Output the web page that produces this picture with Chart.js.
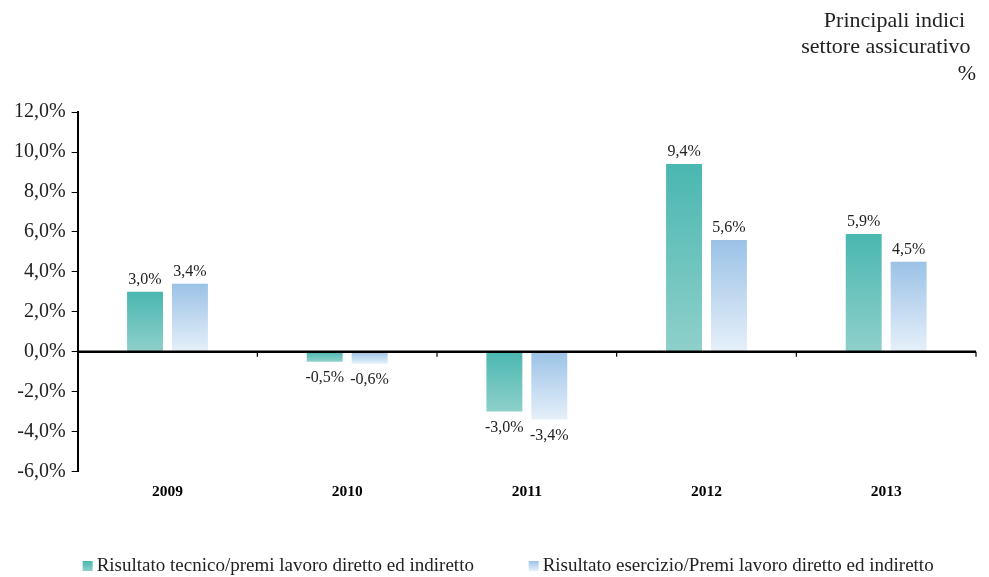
<!DOCTYPE html>
<html>
<head>
<meta charset="utf-8">
<script src="https://cdn.jsdelivr.net/npm/chart.js@4"></script>
<style>
  body { margin: 0; background: #fff; }
  #wrap { width: 989px; height: 577px; position: relative; }
</style>
</head>
<body>
<div id="wrap"><canvas id="chartIndici"></canvas></div>
<script>
const anni = ["2009", "2010", "2011", "2012", "2013"];
const risultatoTecnico = [3.0, -0.5, -3.0, 9.4, 5.9];
const risultatoEsercizio = [3.4, -0.6, -3.4, 5.6, 4.5];
const serieNomi = [
    "Risultato tecnico/premi lavoro diretto ed indiretto",
    "Risultato esercizio/Premi lavoro diretto ed indiretto"
];
const titolo = ["Principali indici  ", "settore assicurativo ", "%"];

const serif = "'Liberation Serif', 'Times New Roman', serif";
const tealTop = "#4ab7b0", tealBottom = "#8fd0cb";
const blueTop = "#9bc2e6", blueBottom = "#e6f0fa";

function fmt(v) {
    return v.toFixed(1).replace(".", ",") + "%";
}

function gradiente(top, bottom) {
    return function (c) {
        const chart = c.chart;
        if (!chart.chartArea || c.type !== "data") return top;
        const y = chart.scales.y;
        const y0 = y.getPixelForValue(0);
        const y1 = y.getPixelForValue(c.raw);
        const g = chart.ctx.createLinearGradient(0, Math.min(y0, y1), 0, Math.max(y0, y1) || 1);
        g.addColorStop(0, top);
        g.addColorStop(1, bottom);
        return g;
    };
}

// zero line with category ticks, value labels, bottom legend
const extras = {
    id: "extras",
    afterDatasetsDraw(chart) {
        const ctx = chart.ctx;
        const area = chart.chartArea;
        const y0 = chart.scales.y.getPixelForValue(0);
        ctx.save();
        ctx.strokeStyle = "#000";
        ctx.lineWidth = 2.5;
        ctx.beginPath();
        ctx.moveTo(area.left, y0);
        ctx.lineTo(area.right, y0);
        ctx.stroke();
        ctx.lineWidth = 1.2;
        const n = anni.length;
        for (let i = 1; i <= n; i++) {
            const x = area.left + i * (area.right - area.left) / n;
            ctx.beginPath();
            ctx.moveTo(x, y0);
            ctx.lineTo(x, y0 + 5);
            ctx.stroke();
        }

        ctx.fillStyle = "#222";
        ctx.font = "16px " + serif;
        ctx.textAlign = "center";
        chart.data.datasets.forEach(function (ds, di) {
            chart.getDatasetMeta(di).data.forEach(function (bar, i) {
                const v = ds.data[i];
                if (v >= 0) {
                    ctx.textBaseline = "bottom";
                    ctx.fillText(fmt(v), bar.x, bar.y - 4);
                } else {
                    ctx.textBaseline = "top";
                    ctx.fillText(fmt(v), bar.x, bar.y + 8);
                }
            });
        });
        ctx.restore();
    },
    afterDraw(chart) {
        const ctx = chart.ctx;
        const area = chart.chartArea;
        const yc = chart.height - 11;
        const starts = [area.left + 5, area.left + 451];
        const cols = [[tealTop, tealBottom], [blueTop, blueBottom]];
        ctx.save();
        ctx.font = "19px " + serif;
        ctx.textBaseline = "middle";
        ctx.textAlign = "left";
        serieNomi.forEach(function (nome, i) {
            const x = starts[i];
            const g = ctx.createLinearGradient(0, yc - 5, 0, yc + 5);
            g.addColorStop(0, cols[i][0]);
            g.addColorStop(1, cols[i][1]);
            ctx.fillStyle = g;
            ctx.fillRect(x, yc - 5, 10, 10);
            ctx.fillStyle = "#222";
            ctx.fillText(nome, x + 14, yc);
        });
        ctx.restore();
    }
};

new Chart(document.getElementById("chartIndici"), {
    type: "bar",
    data: {
        labels: anni,
        datasets: [{
            label: serieNomi[0],
            data: risultatoTecnico,
            backgroundColor: gradiente(tealTop, tealBottom),
            categoryPercentage: 0.5,
            barPercentage: 0.8
        }, {
            label: serieNomi[1],
            data: risultatoEsercizio,
            backgroundColor: gradiente(blueTop, blueBottom),
            categoryPercentage: 0.5,
            barPercentage: 0.8
        }]
    },
    options: {
        responsive: true,
        maintainAspectRatio: false,
        animation: false,
        layout: {
            padding: { left: 8, right: 13, top: 0, bottom: 73 }
        },
        plugins: {
            legend: { display: false },
            tooltip: { enabled: false },
            title: {
                display: true,
                text: titolo,
                align: "end",
                color: "#222",
                font: { family: serif, size: 22, weight: "normal", lineHeight: 1.2 },
                padding: { top: 8, bottom: 25 }
            }
        },
        scales: {
            x: {
                grid: { display: false },
                border: { display: false },
                ticks: {
                    color: "#000",
                    padding: 3,
                    font: { family: serif, size: 15.5, weight: "bold" }
                }
            },
            y: {
                min: -6,
                max: 12,
                border: { display: true, color: "#000", width: 2 },
                grid: { drawOnChartArea: false, drawTicks: true, tickLength: 6, color: "#000" },
                ticks: {
                    stepSize: 2,
                    color: "#222",
                    padding: 6,
                    font: { family: serif, size: 20 },
                    callback: function (v) { return fmt(v); }
                }
            }
        }
    },
    plugins: [extras]
});
</script>
</body>
</html>
